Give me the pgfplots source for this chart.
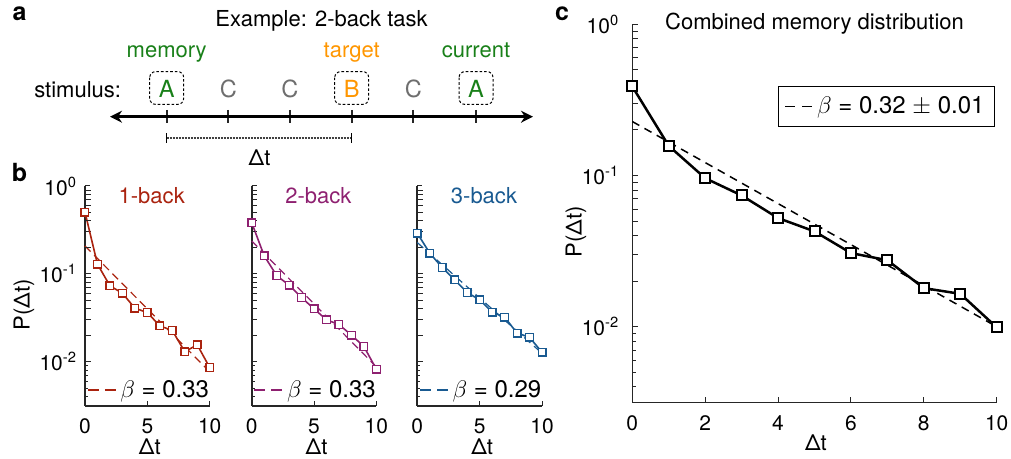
\documentclass[border=0pt]{standalone}
\usepackage{fontspec}
\setmainfont{TeX Gyre Heros}
\usepackage{pgfplots}
\pgfplotsset{compat=1.18}
\usetikzlibrary{arrows.meta}

\definecolor{oneback}{RGB}{170,35,15}
\definecolor{twoback}{RGB}{142,32,112}
\definecolor{threeback}{RGB}{25,90,145}
\definecolor{memgreen}{RGB}{25,128,25}
\definecolor{tgtorange}{RGB}{255,150,0}
\definecolor{stimgray}{RGB}{110,110,110}
\definecolor{axgray}{RGB}{38,38,38}

\newcommand{\tickfont}{\fontsize{10.5}{12}\selectfont}
\newcommand{\labfont}{\fontsize{11}{13}\selectfont}
\newcommand{\legfont}{\fontsize{12}{14}\selectfont}

% inward ticks drawn along the two axis lines: x tick list, major length, minor length
\newcommand{\memticks}[3]{%
  \pgfplotsinvokeforeach{#1}{\draw[axgray, line width=0.5pt] (axis cs:##1,0.0031623) -- ++(0pt,#2);}
  \pgfplotsinvokeforeach{0.01,0.1,1}{\draw[axgray, line width=0.5pt] (axis cs:0,##1) -- ++(#2,0pt);}
  \pgfplotsinvokeforeach{0.004,0.005,0.006,0.007,0.008,0.009,0.02,0.03,0.04,0.05,0.06,0.07,0.08,0.09,0.2,0.3,0.4,0.5,0.6,0.7,0.8,0.9}{%
    \draw[axgray, line width=0.5pt] (axis cs:0,##1) -- ++(#3,0pt);}
}

\pgfplotsset{
  memaxis/.style={
    scale only axis,
    xmin=0, xmax=10, ymin=0.0031623, ymax=1,
    axis x line*=bottom, axis y line*=left,
    axis line style={axgray},
    tick align=inside,
    every tick/.style={draw=axgray, line width=0.5pt},
    ytick={0.01,0.1,1},
    yticklabels={10\textsuperscript{-2},10\textsuperscript{-1},10\textsuperscript{0}},
    clip=false,
    /pgf/number format/assume math mode=true,
    ticklabel style={font=\tickfont},
    xticklabel style={yshift=-3pt},
    label style={font=\labfont},
    xlabel={Δt},
  },
  smallaxis/.style={
    memaxis, width=62.35pt, height=109.85pt, anchor=south west,
    xtick={0,5,10},
    axis line style={axgray, line width=0.9pt},
    major tick length=2.4pt,
    yticklabel style={xshift=-0.5pt},
    xlabel style={at={(axis description cs:0.52,-0.1866)}, anchor=center},
    legend style={draw=none, fill=none, inner sep=0pt,
      at={(axis description cs:1.03,0.0715)}, anchor=east, font=\legfont},
    legend image code/.code={\draw[##1, dash pattern=on 5.5pt off 3pt] (0pt,0pt) -- (14pt,0pt);},
  },
}

\begin{document}
\begin{tikzpicture}
\useasboundingbox (0pt,0pt) rectangle (505.5pt,-229.5pt);

% ---- panel a: schematic of the 2-back task
\node[anchor=base, font=\fontsize{12.5}{14}\selectfont\bfseries] at (9.8pt,-10.5pt) {a};
\node[anchor=base, font=\fontsize{11}{13}\selectfont] at (160.8pt,-13.1pt) {Example: 2-back task};
\node[anchor=base, font=\labfont, text=memgreen] at (83.35pt,-28.7pt) {memory};
\node[anchor=base, font=\labfont, text=tgtorange] at (175.85pt,-28.7pt) {target};
\node[anchor=base, font=\labfont, text=memgreen] at (238pt,-28.7pt) {current};
\node[anchor=base east, inner sep=0pt, font=\labfont] at (60.7pt,-48.8pt) {stimulus:};
\foreach \x/\s/\c in {83.35/A/memgreen, 114.15/C/stimgray, 145/C/stimgray,
                       175.85/B/tgtorange, 206.65/C/stimgray, 238/A/memgreen} {
  \node[anchor=base, font=\fontsize{11.8}{13}\selectfont, text=\c] at (\x pt,-48.8pt) {\s};
  \draw[axgray, line width=1.1pt] (\x pt,-55pt) -- (\x pt,-61.5pt);
}
\foreach \x in {83.35,175.85,238} {
  \draw[black, line width=0.5pt, dash pattern=on 1.3pt off 1pt, rounded corners=3pt]
    (\x pt-8.5pt,-35.8pt) rectangle (\x pt+8.5pt,-52.2pt);
}
\draw[black, line width=1.2pt, {Stealth[length=6pt,width=6pt]}-{Stealth[length=6pt,width=6pt]}]
  (55pt,-58.35pt) -- (266.5pt,-58.35pt);
\draw[black!75, line width=0.9pt, dash pattern=on 0.5pt off 0.25pt] (83.35pt,-69.15pt) -- (175.85pt,-69.15pt);
\draw[black, line width=0.6pt] (83.35pt,-66.65pt) -- (83.35pt,-71.65pt);
\draw[black, line width=0.6pt] (175.85pt,-66.65pt) -- (175.85pt,-71.65pt);
\node[anchor=base, font=\labfont] at (129.8pt,-82.7pt) {Δt};

% ---- panel b: the three tasks
\node[anchor=base, font=\fontsize{12.5}{14}\selectfont\bfseries] at (9.8pt,-91pt) {b};

\begin{semilogyaxis}[smallaxis, at={(42.5pt,-202.85pt)},
  ylabel={P(Δt)},
  ylabel style={at={(axis description cs:-0.489,0.458)}, anchor=center}]
\addplot[oneback, line width=0.6pt, dash pattern=on 4pt off 2.5pt] coordinates {(0,0.208) (10,0.0077)};
\addlegendentry{$\beta$ = 0.33}
\addplot[oneback, line width=0.8pt, mark=square*, mark size=1.9pt,
  mark options={fill=white, line width=0.7pt, solid}, forget plot] coordinates {
  (0,0.502) (1,0.129) (2,0.0731) (3,0.0603) (4,0.0407) (5,0.0363)
  (6,0.0256) (7,0.0227) (8,0.0130) (9,0.0156) (10,0.0086)};
\memticks{0,5,10}{2.4pt}{1.4pt}
\node[anchor=base, font=\labfont, text=oneback] at (rel axis cs:0.535,0.9226) {1-back};
\end{semilogyaxis}

\begin{semilogyaxis}[smallaxis, at={(125.85pt,-202.85pt)}, yticklabels={}]
\addplot[twoback, line width=0.6pt, dash pattern=on 4pt off 2.5pt] coordinates {(0,0.237) (10,0.00875)};
\addlegendentry{$\beta$ = 0.33}
\addplot[twoback, line width=0.8pt, mark=square*, mark size=1.9pt,
  mark options={fill=white, line width=0.7pt, solid}, forget plot] coordinates {
  (0,0.383) (1,0.161) (2,0.0957) (3,0.0743) (4,0.0538) (5,0.0400)
  (6,0.0300) (7,0.0265) (8,0.0201) (9,0.0149) (10,0.0082)};
\memticks{0,5,10}{2.4pt}{1.4pt}
\node[anchor=base, font=\labfont, text=twoback] at (rel axis cs:0.535,0.9226) {2-back};
\end{semilogyaxis}

\begin{semilogyaxis}[smallaxis, at={(208.65pt,-202.85pt)}, yticklabels={}]
\addplot[threeback, line width=0.6pt, dash pattern=on 4pt off 2.5pt] coordinates {(0,0.227) (10,0.0125)};
\addlegendentry{$\beta$ = 0.29}
\addplot[threeback, line width=0.8pt, mark=square*, mark size=1.9pt,
  mark options={fill=white, line width=0.7pt, solid}, forget plot] coordinates {
  (0,0.290) (1,0.172) (2,0.118) (3,0.0855) (4,0.0613) (5,0.0507)
  (6,0.0367) (7,0.0322) (8,0.0212) (9,0.0190) (10,0.0128)};
\memticks{0,5,10}{2.4pt}{1.4pt}
\node[anchor=base, font=\labfont, text=threeback] at (rel axis cs:0.535,0.9226) {3-back};
\end{semilogyaxis}

% ---- panel c: combined distribution
\node[anchor=base, font=\fontsize{12.5}{14}\selectfont\bfseries] at (281pt,-10.5pt) {c};

\begin{semilogyaxis}[memaxis, at={(316.15pt,-201.15pt)}, anchor=south west,
  width=182.2pt, height=189pt,
  xtick={0,2,4,6,8,10},
  axis line style={axgray, line width=0.6pt},
  major tick length=2.8pt,
  yticklabel style={xshift=-3pt},
  ylabel={P(Δt)},
  ylabel style={at={(axis description cs:-0.1545,0.4505)}, anchor=center},
  xlabel style={at={(axis description cs:0.504,-0.108)}, anchor=center},
  legend style={draw=black, line width=0.5pt, fill=white, font=\legfont,
    at={(axis description cs:0.9953,0.8368)}, anchor=north east,
    inner xsep=3pt, inner ysep=3pt},
  legend image code/.code={\draw[#1, dash pattern=on 5pt off 3.5pt] (0pt,0pt) -- (13.5pt,0pt);},
]
\addplot[black, line width=0.75pt, dash pattern=on 4pt off 3pt] coordinates {(0,0.2275) (10,0.0100)};
\addlegendentry{$\beta$ = 0.32 $\pm$ 0.01}
\addplot[black, line width=1.25pt, mark=square*, mark size=2.5pt,
  mark options={fill=white, line width=1pt, solid}, forget plot] coordinates {
  (0,0.388) (1,0.157) (2,0.096) (3,0.0738) (4,0.0523) (5,0.0427)
  (6,0.0307) (7,0.0275) (8,0.0180) (9,0.0165) (10,0.0099)};
\memticks{0,2,4,6,8,10}{2.8pt}{1.8pt}
\node[anchor=base, font=\fontsize{11}{13}\selectfont] at (rel axis cs:0.5,0.985) {Combined memory distribution};
\end{semilogyaxis}
\end{tikzpicture}
\end{document}
